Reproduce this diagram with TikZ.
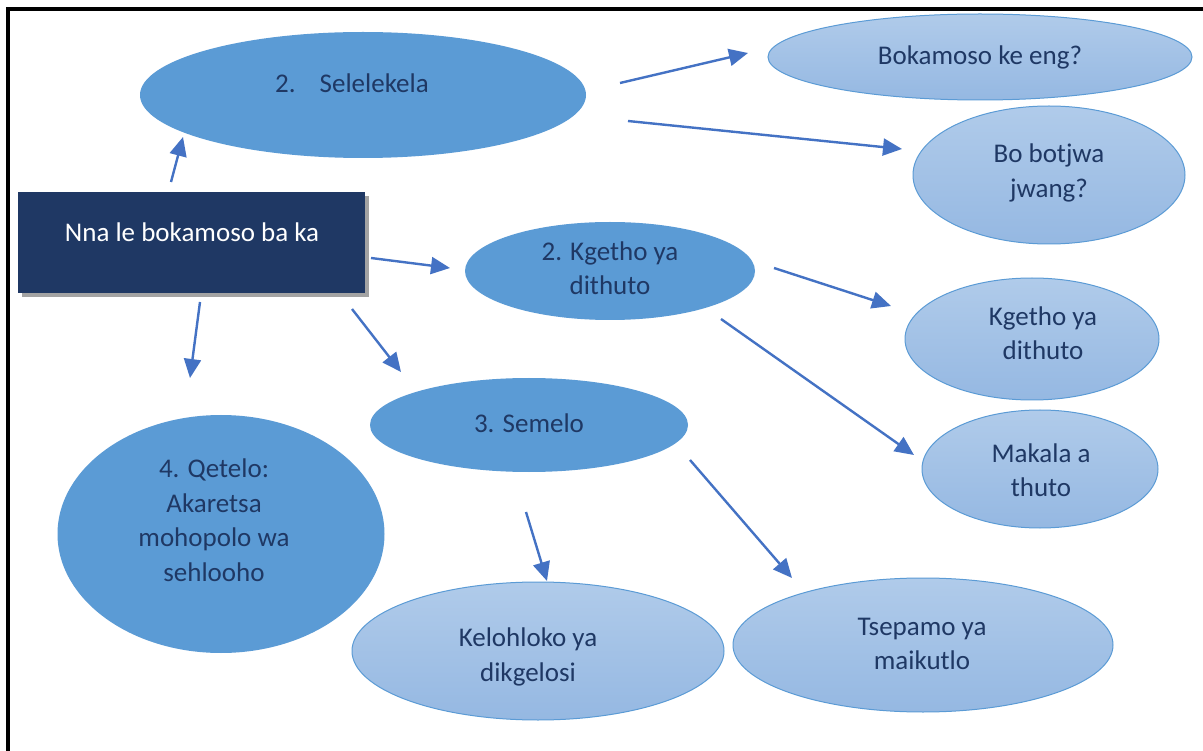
\documentclass[tikz,border=0pt]{standalone}
\usepackage{fontspec}
\setmainfont{Carlito}
\usetikzlibrary{shapes.geometric,arrows.meta,shadows}
\definecolor{navy}{HTML}{1F3864}
\definecolor{midblue}{HTML}{5B9BD5}
\definecolor{arrowblue}{HTML}{4472C4}
\definecolor{lighttop}{HTML}{B0CBEA}
\definecolor{lightbot}{HTML}{95B8E2}
\tikzset{
  darkell/.style={ellipse, fill=midblue, draw=none, inner sep=0pt},
  lightell/.style={ellipse, top color=lighttop, bottom color=lightbot, draw=midblue, line width=1pt, inner sep=0pt},
  lbl/.style={text=navy, font=\fontsize{27}{34.5}\selectfont, align=center, inner sep=0pt},
  conn/.style={draw=arrowblue, line width=2.4pt, -{Triangle[length=19pt,width=17pt]}},
  rootbox/.style={rectangle, fill=navy, draw=none, inner sep=0pt,
    drop shadow={shadow xshift=4pt, shadow yshift=-4pt, fill=black!45, opacity=0.8}}
}
\begin{document}
\begin{tikzpicture}[x=1pt,y=-1pt]
\useasboundingbox (0,0) rectangle (1203,751);
\fill[white] (0,0) rectangle (1203,751);
% frame
\draw[line width=4pt, black] (8,751) -- (8,9.5) -- (1203,9.5);

% ellipses
\node[darkell, minimum width=446pt, minimum height=126pt] (sel) at (363,95) {};
\node[lightell, minimum width=424pt, minimum height=86pt] (bok) at (980,57) {};
\node[lightell, minimum width=272pt, minimum height=138pt] (bot) at (1049,175) {};
\node[darkell, minimum width=290pt, minimum height=98pt] (kg) at (610,271) {};
\node[lightell, minimum width=254pt, minimum height=122pt] (kg2) at (1032,339) {};
\node[lightell, minimum width=236pt, minimum height=118pt] (mak) at (1040,469) {};
\node[darkell, minimum width=318pt, minimum height=94pt] (sem) at (529,425) {};
\node[darkell, minimum width=327pt, minimum height=238pt] (qet) at (221,534) {};
\node[lightell, minimum width=372pt, minimum height=138pt] (kel) at (538,651) {};
\node[lightell, minimum width=380pt, minimum height=134pt] (tse) at (923,645) {};

% root box
\node[rootbox, minimum width=347pt, minimum height=101pt] (root) at (191.5,242.5) {};

% labels
\node[lbl] (tsel) at (352,83) {2.\hspace{24pt}Selelekela};
\node[lbl] (tbok) at (980,57) {Bokamoso ke eng?};
\node[lbl] (tbot) at (1049,173) {Bo botjwa\\jwang?};
\node[lbl, text=white] (troot) at (192,232) {Nna le bokamoso ba ka};
\node[lbl] (tkg) at (610,268) {2. Kgetho ya\\dithuto};
\node[lbl] (tkg2) at (1043,333) {Kgetho ya\\dithuto};
\node[lbl] (tmak) at (1041,470) {Makala a\\thuto};
\node[lbl] (tsem) at (529,423) {3. Semelo};
\node[lbl] (tqet) at (214,520) {4. Qetelo:\\Akaretsa\\mohopolo wa\\sehlooho};
\node[lbl] (tkel) at (528,657) {Kelohloko ya\\dikgelosi};
\node[lbl] (ttse) at (922,644) {Tsepamo ya\\maikutlo};

% arrow end points
\coordinate (a1s) at (171,182);  \coordinate (a1e) at (183,137);
\coordinate (a2s) at (620,83);   \coordinate (a2e) at (748,53);
\coordinate (a3s) at (628,121);  \coordinate (a3e) at (902,149);
\coordinate (a4s) at (371,258);  \coordinate (a4e) at (450,268);
\coordinate (a5s) at (774,268);  \coordinate (a5e) at (891,306);
\coordinate (a6s) at (721,319);  \coordinate (a6e) at (914,455);
\coordinate (a7s) at (352,309);  \coordinate (a7e) at (401,372);
\coordinate (a8s) at (200,302);  \coordinate (a8e) at (190,378);
\coordinate (a9s) at (526,512);  \coordinate (a9e) at (547,581);
\coordinate (a10s) at (690,460); \coordinate (a10e) at (792,578);

\draw[conn] (a1s) -- (a1e);
\draw[conn] (a2s) -- (a2e);
\draw[conn] (a3s) -- (a3e);
\draw[conn] (a4s) -- (a4e);
\draw[conn] (a5s) -- (a5e);
\draw[conn] (a6s) -- (a6e);
\draw[conn] (a7s) -- (a7e);
\draw[conn] (a8s) -- (a8e);
\draw[conn] (a9s) -- (a9e);
\draw[conn] (a10s) -- (a10e);
\end{tikzpicture}
\end{document}
